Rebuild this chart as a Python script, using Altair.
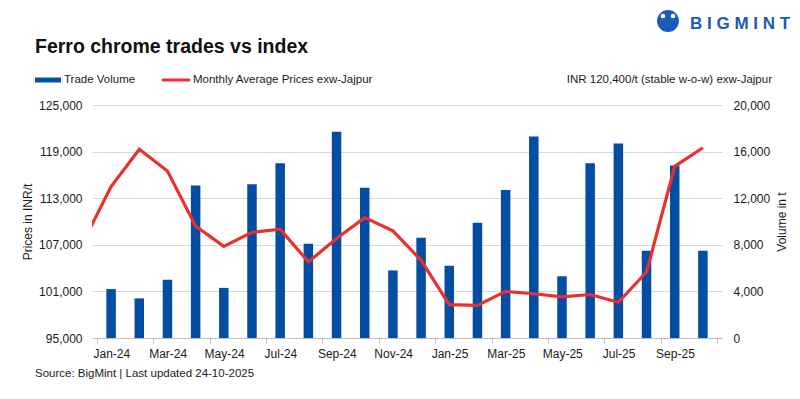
import altair as alt
import pandas as pd

months = ["Jan-24", "Feb-24", "Mar-24", "Apr-24", "May-24", "Jun-24", "Jul-24", "Aug-24",
          "Sep-24", "Oct-24", "Nov-24", "Dec-24", "Jan-25", "Feb-25", "Mar-25", "Apr-25",
          "May-25", "Jun-25", "Jul-25", "Aug-25", "Sep-25", "Oct-25"]
volume = [4200, 3400, 5000, 13100, 4300, 13200, 15000, 8100, 17700, 12900, 5800, 8600,
          6200, 9900, 12700, 17300, 5300, 15000, 16700, 7500, 14800, 7500]
line_months = ["Dec-23"] + months
price = [107300, 114500, 119300, 116500, 109400, 106800, 108600, 109000, 104800, 107800,
         110500, 108800, 105000, 99300, 99200, 101000, 100700, 100300, 100600, 99600,
         103500, 117100, 119500]
tick_labels = ["Jan-24", "Mar-24", "May-24", "Jul-24", "Sep-24", "Nov-24", "Jan-25",
               "Mar-25", "May-25", "Jul-25", "Sep-25", ""]
price_ticks = [95000, 101000, 107000, 113000, 119000, 125000]
volume_ticks = [0, 4000, 8000, 12000, 16000, 20000]

FONT = "Liberation Sans"
BLUE = "#034ea2"
RED = "#e8312f"
TXT = "#1a1a1a"

bar_df = pd.DataFrame({"month": months, "x": list(range(len(months))), "volume": volume})
line_df = pd.DataFrame({"month": line_months, "x": list(range(-1, len(months))), "price": price})

W, H = 630, 233
band = W / len(months)
tick_vals = [i - 0.5 for i in range(0, len(months) + 1, 2)]
label_arr = "[" + ",".join("'" + t + "'" for t in tick_labels) + "]"

xscale = alt.Scale(domain=[-0.5, len(months) - 0.5], nice=False, zero=False)
xaxis = alt.Axis(values=tick_vals, labelExpr=label_arr + "[round((datum.value+0.5)/2)]",
                 labelOffset=band / 2, title=None, grid=False, tickSize=5,
                 tickColor="#bfbfbf", domainColor="#bfbfbf", labelPadding=5,
                 labelFontSize=12, labelFont=FONT, labelColor=TXT,
                 labelFlush=False, labelOverlap=False)

bars = alt.Chart(bar_df).mark_bar(color=BLUE, size=9.5).encode(
    x=alt.X("x:Q", scale=xscale, axis=xaxis),
    y=alt.Y("volume:Q", scale=alt.Scale(domain=[0, 20000], nice=False),
            axis=alt.Axis(orient="right", values=volume_ticks, format=",.0f", grid=False,
                          domain=False, ticks=False, labelPadding=11, labelFontSize=12,
                          labelFont=FONT, labelColor=TXT, title="Volume in t",
                          titleAngle=270, titleFont=FONT, titleFontSize=12,
                          titleFontWeight="normal", titleColor=TXT, titlePadding=19)),
)

line = alt.Chart(line_df).mark_line(color=RED, strokeWidth=3.2, clip=True).encode(
    x=alt.X("x:Q", scale=xscale, axis=xaxis),
    y=alt.Y("price:Q", scale=alt.Scale(domain=[95000, 125000], nice=False, zero=False),
            axis=alt.Axis(orient="left", values=price_ticks, format=",.0f", grid=True,
                          gridColor="#d9d9d9", domain=False, ticks=False, labelPadding=10,
                          labelFontSize=12, labelFont=FONT, labelColor=TXT,
                          title="Prices in INR/t", titleFont=FONT, titleFontSize=12,
                          titleFontWeight="normal", titleColor=TXT, titlePadding=4)),
)

one = pd.DataFrame({"a": [0]})


def txt(s, x, y, size=12, weight="normal", align="left", color=TXT, baseline="middle"):
    return alt.Chart(one).mark_text(text=s, font=FONT, fontSize=size, fontWeight=weight,
                                    align=align, baseline=baseline, color=color).encode(
        x=alt.value(x), y=alt.value(y))


title = txt("Ferro chrome trades vs index", -57, -52.5, size=19.5, weight="bold",
            baseline="alphabetic", color="#111111")
leg_rect = alt.Chart(one).mark_rect(color=BLUE).encode(
    x=alt.value(-57), x2=alt.value(-31), y=alt.value(-27.5), y2=alt.value(-22.5))
leg_t1 = txt("Trade Volume", -28, -25, size=11.5)
leg_line = alt.Chart(one).mark_rule(color=RED, strokeWidth=3).encode(
    x=alt.value(70), x2=alt.value(98), y=alt.value(-25))
leg_t2 = txt("Monthly Average Prices exw-Jajpur", 101, -25, size=11.5)
right_note = txt("INR 120,400/t (stable w-o-w) exw-Jajpur", 680, -25, size=11.5, align="right")
source = txt("Source: BigMint | Last updated 24-10-2025", -57, 269, size=11.5)
logo_circle = alt.Chart(one).mark_point(filled=True, color="#1a5bb5", size=480, opacity=1).encode(
    x=alt.value(576), y=alt.value(-84))
logo_h1 = alt.Chart(one).mark_point(filled=True, color="white", size=22, opacity=1).encode(
    x=alt.value(571), y=alt.value(-89))
logo_h2 = alt.Chart(one).mark_point(filled=True, color="white", size=22, opacity=1).encode(
    x=alt.value(581), y=alt.value(-89))
logo_text = txt("B I G M I N T", 598, -76, size=17, weight="bold", color="#1a5bb5",
                baseline="alphabetic")

main = alt.layer(bars, line).resolve_scale(y="independent")

chart = alt.layer(
    main, title, leg_rect, leg_t1, leg_line, leg_t2, right_note, source,
    logo_circle, logo_h1, logo_h2, logo_text
).properties(
    width=W, height=H,
    autosize=alt.AutoSizeParams(type="none"),
    padding={"left": 84, "top": 97, "right": 70, "bottom": 50},
    background="white",
).configure_view(stroke=None)

chart.save("out.html", embed_options={"renderer": "svg", "actions": False})
